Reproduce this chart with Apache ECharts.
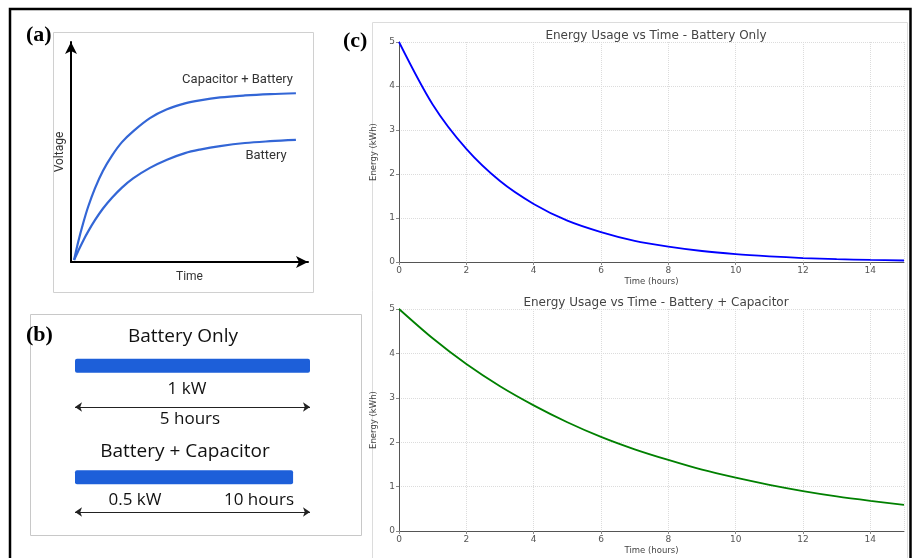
<!DOCTYPE html>
<html>
<head>
<meta charset="utf-8">
<script src="https://cdn.jsdelivr.net/npm/echarts@6/dist/echarts.min.js"></script>
<style>
html,body{margin:0;padding:0;background:#fff;}
#chart{width:912px;height:558px;}
</style>
</head>
<body>
<div id="chart"></div>
<script>
// ---- Panel (a): conceptual voltage curves (normalised units)
const aTime     = [0.013, 0.030, 0.051, 0.072, 0.101, 0.135, 0.173, 0.215, 0.262, 0.333, 0.405, 0.481, 0.544, 0.629, 0.734, 0.840, 0.949];
const aCapBatt  = [0.009, 0.090, 0.175, 0.250, 0.335, 0.415, 0.484, 0.545, 0.594, 0.654, 0.694, 0.721, 0.735, 0.748, 0.757, 0.763, 0.767];
const aBattery  = [0.009, 0.049, 0.096, 0.138, 0.190, 0.243, 0.292, 0.338, 0.380, 0.428, 0.465, 0.495, 0.511, 0.527, 0.541, 0.549, 0.555];

// ---- Panel (b): bars (relative length of the arrow span)
const bCategories = ['Battery Only', 'Battery + Capacitor'];
const bBarLength  = [1.0, 0.928];

// ---- Panel (c): energy vs time
const hours       = [0,1,2,3,4,5,6,7,8,9,10,11,12,13,14,15];
const batteryOnly = [5.00,3.58,2.57,1.84,1.32,0.94,0.68,0.48,0.35,0.25,0.18,0.13,0.09,0.065,0.047,0.034];
const batteryCap  = [5.00,4.34,3.76,3.26,2.83,2.45,2.12,1.84,1.60,1.38,1.20,1.04,0.90,0.78,0.68,0.59];

const pair = (xs, ys) => xs.map((x, i) => [x, ys[i]]);

const chart = echarts.init(document.getElementById('chart'), null, {renderer: 'canvas'});

const sansC = 'DejaVu Sans';
const sansAB = 'Roboto';

function cAxisX(gi) {
  return {
    type: 'value', gridIndex: gi, min: 0, max: 15, interval: 2,
    name: 'Time (hours)', nameLocation: 'middle', nameGap: 15,
    nameTextStyle: {fontFamily: sansC, fontSize: 8.5, color: '#444'},
    axisLine: {show: true, lineStyle: {color: '#555', width: 1}},
    axisTick: {show: true, length: 3, lineStyle: {color: '#888'}},
    axisLabel: {fontFamily: sansC, fontSize: 9, color: '#555', margin: 4, showMaxLabel: false},
    splitLine: {show: true, lineStyle: {color: '#dcdcdc', type: 'dotted', width: 1}}
  };
}
function cAxisY(gi) {
  return {
    type: 'value', gridIndex: gi, min: 0, max: 5, interval: 1,
    name: 'Energy (kWh)', nameLocation: 'middle', nameGap: 11, nameRotate: 90,
    nameTextStyle: {fontFamily: sansC, fontSize: 8.5, color: '#444'},
    axisLine: {show: true, lineStyle: {color: '#555', width: 1}},
    axisTick: {show: true, length: 3, lineStyle: {color: '#888'}},
    axisLabel: {fontFamily: sansC, fontSize: 9, color: '#555', margin: 4},
    splitLine: {show: true, lineStyle: {color: '#dcdcdc', type: 'dotted', width: 1}}
  };
}

const hidden = {
  axisLine: {show: false}, axisTick: {show: false}, axisLabel: {show: false}, splitLine: {show: false}
};

const option = {
  backgroundColor: '#fff',
  animation: false,
  title: [
    {text: 'Energy Usage vs Time - Battery Only', left: 651, top: 25, textAlign: 'center',
     textStyle: {fontFamily: sansC, fontSize: 12, fontWeight: 'normal', color: '#444'}},
    {text: 'Energy Usage vs Time - Battery + Capacitor', left: 651, top: 292, textAlign: 'center',
     textStyle: {fontFamily: sansC, fontSize: 12, fontWeight: 'normal', color: '#444'}}
  ],
  grid: [
    {left: 71, top: 42, width: 237, height: 220},   // (a)
    {left: 75, top: 310, width: 235, height: 223},  // (b) bars
    {left: 75, top: 407, width: 235, height: 105},  // (b) arrows
    {left: 399, top: 42, width: 505, height: 220},  // (c) top
    {left: 399, top: 309, width: 505, height: 222}  // (c) bottom
  ],
  xAxis: [
    {type: 'value', gridIndex: 0, min: 0, max: 1,
     name: 'Time', nameLocation: 'middle', nameGap: 9,
     nameTextStyle: {fontFamily: sansAB, fontSize: 12, color: '#333'},
     axisLine: {show: true, symbol: ['none', 'arrow'], symbolSize: [9, 12], symbolOffset: [0, 0],
                lineStyle: {color: '#000', width: 2}},
     axisTick: {show: false}, axisLabel: {show: false}, splitLine: {show: false}},
    Object.assign({type: 'value', gridIndex: 1, min: 0, max: 1}, hidden),
    Object.assign({type: 'value', gridIndex: 2, min: 0, max: 1}, hidden),
    cAxisX(3), cAxisX(4)
  ],
  yAxis: [
    {type: 'value', gridIndex: 0, min: 0, max: 1,
     name: 'Voltage', nameLocation: 'middle', nameGap: 5, nameRotate: 90,
     nameTextStyle: {fontFamily: sansAB, fontSize: 12, color: '#333'},
     axisLine: {show: true, symbol: ['none', 'arrow'], symbolSize: [9, 12], symbolOffset: [0, 0],
                lineStyle: {color: '#000', width: 2}},
     axisTick: {show: false}, axisLabel: {show: false}, splitLine: {show: false}},
    Object.assign({type: 'category', gridIndex: 1, data: bCategories, inverse: true}, hidden),
    Object.assign({type: 'value', gridIndex: 2, min: 0, max: 1}, hidden),
    cAxisY(3), cAxisY(4)
  ],
  series: [
    {type: 'line', xAxisIndex: 0, yAxisIndex: 0, data: pair(aTime, aCapBatt), smooth: 0.35,
     showSymbol: false, lineStyle: {color: '#3366d6', width: 2.2}},
    {type: 'line', xAxisIndex: 0, yAxisIndex: 0, data: pair(aTime, aBattery), smooth: 0.35,
     showSymbol: false, lineStyle: {color: '#3366d6', width: 2.2}},
    {type: 'bar', xAxisIndex: 1, yAxisIndex: 1, data: bBarLength, barWidth: 14,
     itemStyle: {color: '#1d5fd9', borderRadius: 2}},
    {type: 'lines', coordinateSystem: 'cartesian2d', xAxisIndex: 2, yAxisIndex: 2, clip: false,
     symbol: ['arrow', 'arrow'], symbolSize: 7,
     lineStyle: {color: '#222', width: 1, opacity: 1},
     data: [{coords: [[0, 1], [1, 1]]}, {coords: [[0, 0], [1, 0]]}]},
    {type: 'line', xAxisIndex: 3, yAxisIndex: 3, data: pair(hours, batteryOnly), smooth: 0.3,
     showSymbol: false, lineStyle: {color: '#0000ff', width: 1.8}},
    {type: 'line', xAxisIndex: 4, yAxisIndex: 4, data: pair(hours, batteryCap), smooth: 0.3,
     showSymbol: false, lineStyle: {color: '#008000', width: 1.8}}
  ],
  graphic: [
    // outer frame
    {type: 'rect', z: -10, shape: {x: 10, y: 9, width: 900.5, height: 580},
     style: {fill: 'none', stroke: '#000', lineWidth: 2.5}},
    // panel boxes
    {type: 'rect', z: -10, shape: {x: 53.5, y: 32.5, width: 260, height: 260},
     style: {fill: 'none', stroke: '#d0d0d0', lineWidth: 1}},
    {type: 'rect', z: -10, shape: {x: 30.5, y: 314.5, width: 331, height: 221},
     style: {fill: 'none', stroke: '#c8c8c8', lineWidth: 1}},
    {type: 'rect', z: -10, shape: {x: 372.5, y: 22.5, width: 535, height: 580},
     style: {fill: 'none', stroke: '#dcdcdc', lineWidth: 1}},
    // panel labels
    {type: 'text', left: 26, top: 24, style: {text: '(a)', font: 'bold 22px "Liberation Serif"', fill: '#000'}},
    {type: 'text', left: 26, top: 324, style: {text: '(b)', font: 'bold 22px "Liberation Serif"', fill: '#000'}},
    {type: 'text', left: 343, top: 30, style: {text: '(c)', font: 'bold 22px "Liberation Serif"', fill: '#000'}},
    // panel (a) curve labels
    {type: 'text', x: 293, y: 80, style: {text: 'Capacitor + Battery', font: '13px Roboto', fill: '#333',
     align: 'right', verticalAlign: 'middle'}},
    {type: 'text', x: 266, y: 156, style: {text: 'Battery', font: '13px Roboto', fill: '#333',
     align: 'center', verticalAlign: 'middle'}},
    // panel (b) texts
    {type: 'text', x: 183, y: 337, style: {text: 'Battery Only', font: '500 19px "Open Sans"', fill: '#111', align: 'center', verticalAlign: 'middle'}},
    {type: 'text', x: 187, y: 389, style: {text: '1 kW', font: '500 17px "Open Sans"', fill: '#111', align: 'center', verticalAlign: 'middle'}},
    {type: 'text', x: 190, y: 419, style: {text: '5 hours', font: '500 17px "Open Sans"', fill: '#111', align: 'center', verticalAlign: 'middle'}},
    {type: 'text', x: 185, y: 452, style: {text: 'Battery + Capacitor', font: '500 19px "Open Sans"', fill: '#111', align: 'center', verticalAlign: 'middle'}},
    {type: 'text', x: 135, y: 500, style: {text: '0.5 kW', font: '500 17px "Open Sans"', fill: '#111', align: 'center', verticalAlign: 'middle'}},
    {type: 'text', x: 259, y: 500, style: {text: '10 hours', font: '500 17px "Open Sans"', fill: '#111', align: 'center', verticalAlign: 'middle'}}
  ]
};
chart.setOption(option);
</script>
</body>
</html>
